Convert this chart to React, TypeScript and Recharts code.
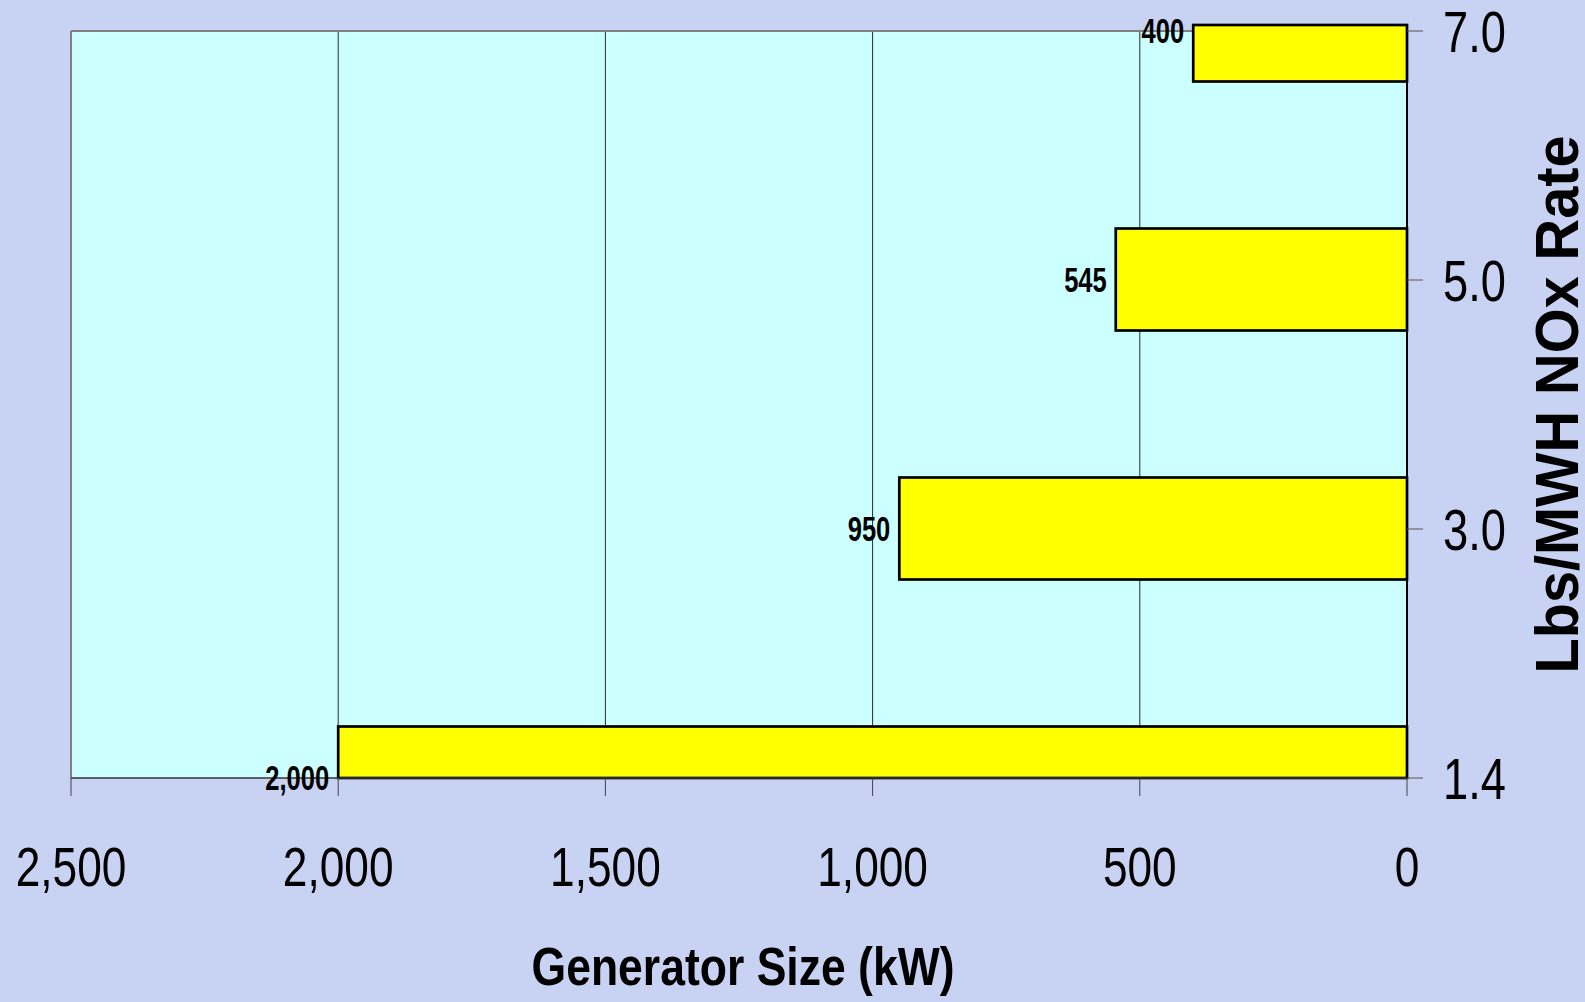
import React from 'react';
import { BarChart, Bar, XAxis, YAxis, CartesianGrid, LabelList, Label } from 'recharts';

// ---- data ----
const RATE_LABELS = ['1.4', '3.0', '5.0', '7.0'];
const GEN_SIZE_KW = [2000, 950, 545, 400];
const X_TICKS = [0, 500, 1000, 1500, 2000, 2500];
const Y_TICKS = [0, 1, 2, 3];
const X_TITLE = 'Generator Size (kW)';
const Y_TITLE = 'Lbs/MWH NOx Rate';

const data = RATE_LABELS.map((r, i) => ({ rate: r, idx: i, kw: GEN_SIZE_KW[i] }));

// ---- layout / style ----
const W = 1585;
const H = 1002;
const PLOT_TOP = 31;
const PLOT_LEFT = 71;
const RIGHT_AXIS_W = 178;
const BOTTOM_AXIS_H = 224;
const PLOT_BOTTOM = H - BOTTOM_AXIS_H;
const OVERSHOOT = 6;
const FONT = '"Liberation Sans", Arial, Helvetica, sans-serif';

const fmt = (v: number) => v.toLocaleString('en-US');

const SText = ({ x, y, sx = 1, size, bold = false, anchor = 'middle', rotate = 0, children }: any) => (
  <text
    transform={`translate(${x},${y}) rotate(${rotate}) scale(${sx},1)`}
    x={0}
    y={0}
    fontFamily={FONT}
    fontSize={size}
    fontWeight={bold ? 700 : 400}
    textAnchor={anchor}
    fill="#000"
  >
    {children}
  </text>
);

const XTick = (props: any) => {
  const { x, y, payload } = props;
  return <SText x={x} y={y + 90} sx={0.79} size={56}>{fmt(payload.value)}</SText>;
};

const YTick = (props: any) => {
  const { x, y, payload } = props;
  return (
    <SText x={x + 20} y={y + 21} sx={0.78} size={58} anchor="start">
      {RATE_LABELS[payload.value]}
    </SText>
  );
};

const ClampedBar = (props: any) => {
  const { x, y, width, height } = props;
  const left = Math.min(x, x + width);
  const w = Math.abs(width);
  let top = Math.min(y, y + height);
  let bottom = Math.max(y, y + height);
  top = Math.max(top, PLOT_TOP - OVERSHOOT);
  bottom = Math.min(bottom, PLOT_BOTTOM);
  return <rect x={left} y={top} width={w} height={bottom - top} fill="#ffff00" stroke="#000" strokeWidth={2.7} />;
};

const ValueLabel = (p: any) => {
  const vb = p.viewBox && p.viewBox.width !== undefined ? p.viewBox : p;
  const { x, y, width, height } = vb;
  const left = Math.min(x, x + width);
  const cy = y + height / 2;
  return (
    <SText x={left - 9} y={cy + 12} sx={0.73} size={35} bold anchor="end">
      {fmt(p.value)}
    </SText>
  );
};

const XTitle = (p: any) => {
  const vb = p.viewBox;
  return (
    <SText x={vb.x + vb.width / 2 + 4} y={985} sx={0.84} size={53} bold>
      {X_TITLE}
    </SText>
  );
};

const YTitle = (p: any) => {
  const vb = p.viewBox;
  return (
    <text
      transform={`translate(1578,${vb.y + vb.height / 2}) rotate(-90) scale(0.93,1)`}
      x={0}
      y={0}
      fontFamily={FONT}
      fontSize={62}
      fontWeight={700}
      textAnchor="middle"
      fill="#000"
    >
      {Y_TITLE}
    </text>
  );
};

export default function App() {
  return (
    <div style={{ position: 'absolute', left: 0, top: 0, width: W, height: H, background: '#c8d3f3', overflow: 'hidden' }}>
      <BarChart
        width={W}
        height={H}
        data={data}
        layout="vertical"
        margin={{ top: PLOT_TOP, left: PLOT_LEFT, right: 0, bottom: 0 }}
      >
        <CartesianGrid horizontal={false} verticalValues={[500, 1000, 1500, 2000]} stroke="#2b2b2b" fill="#ccffff" fillOpacity={1} />
        <CartesianGrid vertical={false} horizontalValues={[3]} stroke="#808080" strokeWidth={2} />
        <CartesianGrid horizontal={false} verticalValues={[2500]} stroke="#808080" strokeWidth={2} />
        <XAxis
          type="number"
          dataKey="kw"
          domain={[0, 2500]}
          ticks={X_TICKS}
          reversed
          height={BOTTOM_AXIS_H}
          tickSize={18}
          tickMargin={0}
          axisLine={{ stroke: '#333', strokeWidth: 1.5 }}
          tickLine={{ stroke: '#444', strokeWidth: 1 }}
          tick={<XTick />}
          interval={0}
        >
          <Label content={<XTitle />} />
        </XAxis>
        <YAxis
          type="number"
          dataKey="idx"
          orientation="right"
          domain={[0, 3]}
          ticks={Y_TICKS}
          reversed
          width={RIGHT_AXIS_W}
          tickSize={16}
          tickMargin={0}
          axisLine={{ stroke: '#000', strokeWidth: 2 }}
          tickLine={{ stroke: '#555', strokeWidth: 1 }}
          tick={<YTick />}
          interval={0}
        >
          <Label content={<YTitle />} />
        </YAxis>
        <Bar dataKey="kw" barSize={102} shape={<ClampedBar />} isAnimationActive={false}>
          <LabelList dataKey="kw" content={<ValueLabel />} />
        </Bar>
      </BarChart>
    </div>
  );
}
